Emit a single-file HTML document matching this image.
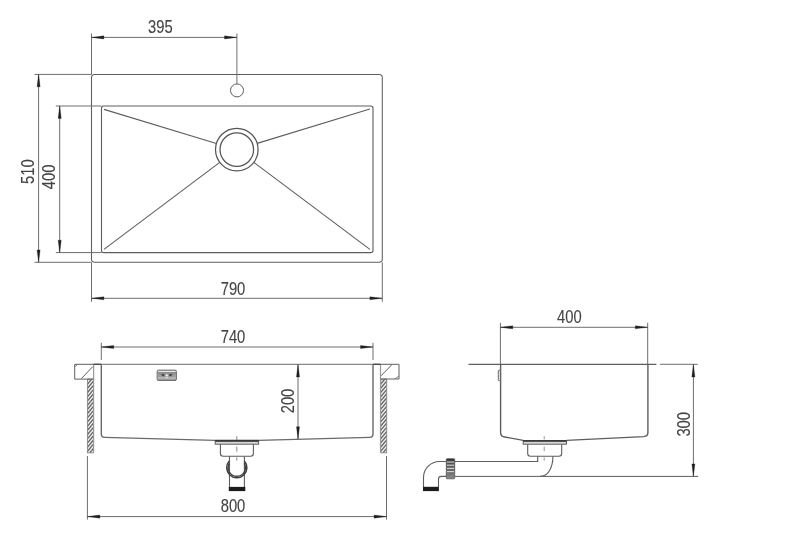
<!DOCTYPE html>
<html><head><meta charset="utf-8"><title>Sink technical drawing</title>
<style>
html,body{margin:0;padding:0;background:#fff;}
body{width:800px;height:553px;overflow:hidden;}
svg{display:block;font-family:"Liberation Sans",sans-serif;filter:blur(0.3px);}
</style></head><body>
<svg width="800" height="553" viewBox="0 0 800 553">
<rect width="800" height="553" fill="#fff"/>
<rect x="91.5" y="74.4" width="290.80" height="187.90" rx="3.2" fill="none" stroke="#5e5e5e" stroke-width="1.05"/>
<rect x="101.5" y="106.0" width="271.50" height="146.60" rx="2.2" fill="none" stroke="#5e5e5e" stroke-width="1.1"/>
<circle cx="237" cy="90.4" r="6.5" fill="none" stroke="#5e5e5e" stroke-width="1.0"/>
<circle cx="236.8" cy="149.6" r="21.3" fill="none" stroke="#555" stroke-width="1.25"/>
<circle cx="236.8" cy="149.6" r="16.8" fill="none" stroke="#555" stroke-width="1.25"/>
<line x1="104" y1="109.4" x2="216.41" y2="143.43" stroke="#5e5e5e" stroke-width="1.1" />
<line x1="369.9" y1="109" x2="257.17" y2="143.39" stroke="#5e5e5e" stroke-width="1.1" />
<line x1="104" y1="249.4" x2="219.77" y2="162.4" stroke="#5e5e5e" stroke-width="1.1" />
<line x1="369.9" y1="249.4" x2="253.84" y2="162.38" stroke="#5e5e5e" stroke-width="1.1" />
<line x1="91.5" y1="33.5" x2="91.5" y2="74.4" stroke="#6e6e6e" stroke-width="1.0" />
<line x1="236.9" y1="33.5" x2="236.9" y2="83.9" stroke="#6e6e6e" stroke-width="1.0" />
<line x1="91.5" y1="37.4" x2="236.9" y2="37.4" stroke="#6e6e6e" stroke-width="1.0" />
<polygon points="91.50,37.40 103.90,35.85 103.90,38.95" fill="#1e1e1e" stroke="#1e1e1e" stroke-width="0.3"/>
<polygon points="236.90,37.40 224.50,35.85 224.50,38.95" fill="#1e1e1e" stroke="#1e1e1e" stroke-width="0.3"/>
<text transform="translate(160.3,33.2) scale(0.785,1)" text-anchor="middle" font-size="18.8" fill="#444444" stroke="#444444" stroke-width="0.12">395</text>
<line x1="34.5" y1="74.4" x2="91.5" y2="74.4" stroke="#6e6e6e" stroke-width="1.0" />
<line x1="34.5" y1="262.3" x2="91.5" y2="262.3" stroke="#6e6e6e" stroke-width="1.0" />
<line x1="38.6" y1="74.4" x2="38.6" y2="262.3" stroke="#6e6e6e" stroke-width="1.0" />
<polygon points="38.60,74.40 37.05,86.80 40.15,86.80" fill="#1e1e1e" stroke="#1e1e1e" stroke-width="0.3"/>
<polygon points="38.60,262.30 37.05,249.90 40.15,249.90" fill="#1e1e1e" stroke="#1e1e1e" stroke-width="0.3"/>
<text transform="translate(34.1,171.6) rotate(-90) scale(0.785,1)" text-anchor="middle" font-size="18.8" fill="#444444" stroke="#444444" stroke-width="0.12">510</text>
<line x1="55.8" y1="106.0" x2="101.5" y2="106.0" stroke="#6e6e6e" stroke-width="1.0" />
<line x1="55.8" y1="252.6" x2="101.5" y2="252.6" stroke="#6e6e6e" stroke-width="1.0" />
<line x1="59.7" y1="106.0" x2="59.7" y2="252.6" stroke="#6e6e6e" stroke-width="1.0" />
<polygon points="59.70,106.00 58.15,118.40 61.25,118.40" fill="#1e1e1e" stroke="#1e1e1e" stroke-width="0.3"/>
<polygon points="59.70,252.60 58.15,240.20 61.25,240.20" fill="#1e1e1e" stroke="#1e1e1e" stroke-width="0.3"/>
<text transform="translate(55.4,176.9) rotate(-90) scale(0.785,1)" text-anchor="middle" font-size="18.8" fill="#444444" stroke="#444444" stroke-width="0.12">400</text>
<line x1="91.5" y1="262.3" x2="91.5" y2="301.8" stroke="#6e6e6e" stroke-width="1.0" />
<line x1="382.3" y1="262.3" x2="382.3" y2="301.8" stroke="#6e6e6e" stroke-width="1.0" />
<line x1="91.5" y1="298.3" x2="382.3" y2="298.3" stroke="#6e6e6e" stroke-width="1.0" />
<polygon points="91.50,298.30 103.90,296.75 103.90,299.85" fill="#1e1e1e" stroke="#1e1e1e" stroke-width="0.3"/>
<polygon points="382.30,298.30 369.90,296.75 369.90,299.85" fill="#1e1e1e" stroke="#1e1e1e" stroke-width="0.3"/>
<text transform="translate(233,294.6) scale(0.785,1)" text-anchor="middle" font-size="18.8" fill="#444444" stroke="#444444" stroke-width="0.12">790</text>
<line x1="101.3" y1="342.8" x2="101.3" y2="360" stroke="#6e6e6e" stroke-width="1.0" />
<line x1="373" y1="342.8" x2="373" y2="360" stroke="#6e6e6e" stroke-width="1.0" />
<line x1="101.3" y1="347" x2="372.9" y2="347" stroke="#6e6e6e" stroke-width="1.0" />
<polygon points="101.30,347.00 113.70,345.45 113.70,348.55" fill="#1e1e1e" stroke="#1e1e1e" stroke-width="0.3"/>
<polygon points="372.90,347.00 360.50,345.45 360.50,348.55" fill="#1e1e1e" stroke="#1e1e1e" stroke-width="0.3"/>
<text transform="translate(233,342.6) scale(0.785,1)" text-anchor="middle" font-size="18.8" fill="#444444" stroke="#444444" stroke-width="0.12">740</text>
<defs><clipPath id="cl"><rect x="87.4" y="379.1" width="6.1" height="73.7"/></clipPath><clipPath id="cr"><rect x="380.6" y="379.1" width="6.1" height="73.7"/></clipPath></defs>
<g clip-path="url(#cl)">
<rect x="87.4" y="379" width="6.10" height="74" fill="#f1f1f1"/>
<line x1="86.4" y1="381.19" x2="94.5" y2="371.55" stroke="#676767" stroke-width="1.35"/>
<line x1="86.4" y1="385.39" x2="94.5" y2="375.75" stroke="#676767" stroke-width="1.35"/>
<line x1="86.4" y1="389.59" x2="94.5" y2="379.95" stroke="#676767" stroke-width="1.35"/>
<line x1="86.4" y1="393.79" x2="94.5" y2="384.15" stroke="#676767" stroke-width="1.35"/>
<line x1="86.4" y1="397.99" x2="94.5" y2="388.35" stroke="#676767" stroke-width="1.35"/>
<line x1="86.4" y1="402.19" x2="94.5" y2="392.55" stroke="#676767" stroke-width="1.35"/>
<line x1="86.4" y1="406.39" x2="94.5" y2="396.75" stroke="#676767" stroke-width="1.35"/>
<line x1="86.4" y1="410.59" x2="94.5" y2="400.95" stroke="#676767" stroke-width="1.35"/>
<line x1="86.4" y1="414.79" x2="94.5" y2="405.15" stroke="#676767" stroke-width="1.35"/>
<line x1="86.4" y1="418.99" x2="94.5" y2="409.35" stroke="#676767" stroke-width="1.35"/>
<line x1="86.4" y1="423.19" x2="94.5" y2="413.55" stroke="#676767" stroke-width="1.35"/>
<line x1="86.4" y1="427.39" x2="94.5" y2="417.75" stroke="#676767" stroke-width="1.35"/>
<line x1="86.4" y1="431.59" x2="94.5" y2="421.95" stroke="#676767" stroke-width="1.35"/>
<line x1="86.4" y1="435.79" x2="94.5" y2="426.15" stroke="#676767" stroke-width="1.35"/>
<line x1="86.4" y1="439.99" x2="94.5" y2="430.35" stroke="#676767" stroke-width="1.35"/>
<line x1="86.4" y1="444.19" x2="94.5" y2="434.55" stroke="#676767" stroke-width="1.35"/>
<line x1="86.4" y1="448.39" x2="94.5" y2="438.75" stroke="#676767" stroke-width="1.35"/>
<line x1="86.4" y1="452.59" x2="94.5" y2="442.95" stroke="#676767" stroke-width="1.35"/>
<line x1="86.4" y1="456.79" x2="94.5" y2="447.15" stroke="#676767" stroke-width="1.35"/>
<line x1="86.4" y1="460.99" x2="94.5" y2="451.35" stroke="#676767" stroke-width="1.35"/>
<line x1="86.4" y1="465.19" x2="94.5" y2="455.55" stroke="#676767" stroke-width="1.35"/>
</g>
<rect x="87.4" y="379.1" width="6.10" height="73.7" fill="none" stroke="#858585" stroke-width="0.9"/>
<g clip-path="url(#cr)">
<rect x="380.6" y="379" width="6.10" height="74" fill="#f1f1f1"/>
<line x1="379.6" y1="381.19" x2="387.7" y2="371.55" stroke="#676767" stroke-width="1.35"/>
<line x1="379.6" y1="385.39" x2="387.7" y2="375.75" stroke="#676767" stroke-width="1.35"/>
<line x1="379.6" y1="389.59" x2="387.7" y2="379.95" stroke="#676767" stroke-width="1.35"/>
<line x1="379.6" y1="393.79" x2="387.7" y2="384.15" stroke="#676767" stroke-width="1.35"/>
<line x1="379.6" y1="397.99" x2="387.7" y2="388.35" stroke="#676767" stroke-width="1.35"/>
<line x1="379.6" y1="402.19" x2="387.7" y2="392.55" stroke="#676767" stroke-width="1.35"/>
<line x1="379.6" y1="406.39" x2="387.7" y2="396.75" stroke="#676767" stroke-width="1.35"/>
<line x1="379.6" y1="410.59" x2="387.7" y2="400.95" stroke="#676767" stroke-width="1.35"/>
<line x1="379.6" y1="414.79" x2="387.7" y2="405.15" stroke="#676767" stroke-width="1.35"/>
<line x1="379.6" y1="418.99" x2="387.7" y2="409.35" stroke="#676767" stroke-width="1.35"/>
<line x1="379.6" y1="423.19" x2="387.7" y2="413.55" stroke="#676767" stroke-width="1.35"/>
<line x1="379.6" y1="427.39" x2="387.7" y2="417.75" stroke="#676767" stroke-width="1.35"/>
<line x1="379.6" y1="431.59" x2="387.7" y2="421.95" stroke="#676767" stroke-width="1.35"/>
<line x1="379.6" y1="435.79" x2="387.7" y2="426.15" stroke="#676767" stroke-width="1.35"/>
<line x1="379.6" y1="439.99" x2="387.7" y2="430.35" stroke="#676767" stroke-width="1.35"/>
<line x1="379.6" y1="444.19" x2="387.7" y2="434.55" stroke="#676767" stroke-width="1.35"/>
<line x1="379.6" y1="448.39" x2="387.7" y2="438.75" stroke="#676767" stroke-width="1.35"/>
<line x1="379.6" y1="452.59" x2="387.7" y2="442.95" stroke="#676767" stroke-width="1.35"/>
<line x1="379.6" y1="456.79" x2="387.7" y2="447.15" stroke="#676767" stroke-width="1.35"/>
<line x1="379.6" y1="460.99" x2="387.7" y2="451.35" stroke="#676767" stroke-width="1.35"/>
<line x1="379.6" y1="465.19" x2="387.7" y2="455.55" stroke="#676767" stroke-width="1.35"/>
</g>
<rect x="380.6" y="379.1" width="6.10" height="73.7" fill="none" stroke="#858585" stroke-width="0.9"/>
<line x1="93.6" y1="364.3" x2="93.6" y2="452.8" stroke="#9a9a9a" stroke-width="1.2" />
<line x1="380.5" y1="364.3" x2="380.5" y2="452.8" stroke="#9a9a9a" stroke-width="1.2" />
<path d="M93.5 364.3 H74.7 V379.1 H93.5" fill="none" stroke="#5e5e5e" stroke-width="1.0"/>
<line x1="92.8" y1="366.6" x2="81.4" y2="378.6" stroke="#5e5e5e" stroke-width="1.0" />
<line x1="75.2" y1="366.6" x2="77.2" y2="364.8" stroke="#5e5e5e" stroke-width="0.8" />
<path d="M380.6 364.3 H399 V379 H380.6" fill="none" stroke="#5e5e5e" stroke-width="1.0"/>
<line x1="391.8" y1="364.8" x2="381" y2="375.8" stroke="#5e5e5e" stroke-width="1.0" />
<line x1="395.2" y1="378.8" x2="398.8" y2="376" stroke="#5e5e5e" stroke-width="0.8" />
<line x1="93.5" y1="364.3" x2="380.6" y2="364.3" stroke="#6c6c6c" stroke-width="1.0" />
<line x1="93.5" y1="364.3" x2="101.3" y2="364.3" stroke="#484848" stroke-width="1.3" />
<line x1="373" y1="364.3" x2="380.6" y2="364.3" stroke="#484848" stroke-width="1.3" />
<path d="M101.3 364.3 V434 Q101.3 437.3 104.6 437.4 L215 440.4 M373 364.3 V434 Q373 437.3 369.7 437.4 L258.6 440.4" fill="none" stroke="#6a6a6a" stroke-width="1.4"/>
<line x1="215" y1="440.6" x2="258.6" y2="440.6" stroke="#333" stroke-width="1.6" />
<rect x="215.2" y="440.6" width="43.4" height="3.6" fill="#d8d8d8" stroke="#5e5e5e" stroke-width="1"/>
<line x1="215.2" y1="441" x2="258.6" y2="441" stroke="#2a2a2a" stroke-width="1.6" />
<path d="M220.4 444.2 V453.5 Q220.4 456.2 223.1 456.2 H250.7 Q253.4 456.2 253.4 453.5 V444.2" fill="none" stroke="#5e5e5e" stroke-width="1.1"/>
<line x1="229.5" y1="456.2" x2="229.5" y2="487" stroke="#5e5e5e" stroke-width="1.1" />
<line x1="244.4" y1="456.2" x2="244.4" y2="487" stroke="#5e5e5e" stroke-width="1.1" />
<g>
<path d="M244.31 460.94 A10.1 10.1 0 1 1 229.29 460.94" fill="none" stroke="#3e3e3e" stroke-width="1.5"/>
<path d="M244.25 463.40 A8.6 8.6 0 1 1 229.35 463.40" fill="none" stroke="#3e3e3e" stroke-width="1.4"/>
</g>
<rect x="228.8" y="486.9" width="16.5" height="4.2" fill="#1c1c1c"/>
<line x1="236.8" y1="436.2" x2="236.8" y2="440" stroke="#777" stroke-width="0.9" />
<line x1="236.8" y1="446.6" x2="236.8" y2="451.6" stroke="#777" stroke-width="0.9" />
<line x1="236.8" y1="457.4" x2="236.8" y2="460.6" stroke="#777" stroke-width="0.9" />
<rect x="157.1" y="370.1" width="19.4" height="10.3" rx="1.4" fill="#b4b4b4" stroke="#6c6c6c" stroke-width="0.9"/>
<line x1="158.2" y1="371.5" x2="175.4" y2="371.5" stroke="#efefef" stroke-width="0.9" />
<line x1="157.6" y1="373.0" x2="176" y2="373.0" stroke="#5c5c5c" stroke-width="0.9" />
<rect x="157.8" y="373.6" width="18" height="3.4" fill="#9c9c9c"/>
<path d="M160.8 374.3 L164.8 374.3 L163.4 376.6 Z M168.8 374.3 L172.8 374.3 L170.2 376.6 Z" fill="#333"/>
<path d="M166.8 373.8 L168.2 376 L165.4 376 Z M166.8 378.6 L168.2 376.8 L165.4 376.8 Z" fill="#eee"/>
<line x1="157.6" y1="380.2" x2="176" y2="380.2" stroke="#666" stroke-width="0.8" />
<line x1="298" y1="364.5" x2="298" y2="439.1" stroke="#6e6e6e" stroke-width="1.0" />
<polygon points="298.00,364.50 296.45,376.90 299.55,376.90" fill="#1e1e1e" stroke="#1e1e1e" stroke-width="0.3"/>
<polygon points="298.00,439.10 296.45,426.70 299.55,426.70" fill="#1e1e1e" stroke="#1e1e1e" stroke-width="0.3"/>
<text transform="translate(294.4,401) rotate(-90) scale(0.785,1)" text-anchor="middle" font-size="18.8" fill="#444444" stroke="#444444" stroke-width="0.12">200</text>
<line x1="87.4" y1="456" x2="87.4" y2="519.6" stroke="#6e6e6e" stroke-width="1.0" />
<line x1="386.5" y1="456" x2="386.5" y2="519.6" stroke="#6e6e6e" stroke-width="1.0" />
<line x1="87.4" y1="516.6" x2="386.5" y2="516.6" stroke="#6e6e6e" stroke-width="1.0" />
<polygon points="87.40,516.60 99.80,515.05 99.80,518.15" fill="#1e1e1e" stroke="#1e1e1e" stroke-width="0.3"/>
<polygon points="386.50,516.60 374.10,515.05 374.10,518.15" fill="#1e1e1e" stroke="#1e1e1e" stroke-width="0.3"/>
<text transform="translate(233,511.8) scale(0.785,1)" text-anchor="middle" font-size="18.8" fill="#444444" stroke="#444444" stroke-width="0.12">800</text>
<line x1="500.4" y1="322.8" x2="500.4" y2="364.3" stroke="#6e6e6e" stroke-width="1.0" />
<line x1="647.7" y1="322.8" x2="647.7" y2="364.3" stroke="#6e6e6e" stroke-width="1.0" />
<line x1="500.4" y1="327.3" x2="647.7" y2="327.3" stroke="#6e6e6e" stroke-width="1.0" />
<polygon points="500.40,327.30 512.80,325.75 512.80,328.85" fill="#1e1e1e" stroke="#1e1e1e" stroke-width="0.3"/>
<polygon points="647.70,327.30 635.30,325.75 635.30,328.85" fill="#1e1e1e" stroke="#1e1e1e" stroke-width="0.3"/>
<text transform="translate(569.3,322.9) scale(0.785,1)" text-anchor="middle" font-size="18.8" fill="#444444" stroke="#444444" stroke-width="0.12">400</text>
<line x1="468.5" y1="364.3" x2="656.4" y2="364.3" stroke="#5e5e5e" stroke-width="1.2" />
<line x1="659.8" y1="364.3" x2="697.8" y2="364.3" stroke="#6e6e6e" stroke-width="1.0" />
<path d="M500.6 364.3 V432.5 Q500.6 436.6 504.8 437 L523.2 440.4 M647.9 364.3 V432.5 Q647.9 436.3 643.8 436.6 L566.5 440.4" fill="none" stroke="#5e5e5e" stroke-width="1.4"/>
<rect x="498.3" y="370.2" width="2.2" height="10.4" rx="0.8" fill="#ddd" stroke="#5e5e5e" stroke-width="0.9"/>
<rect x="523.2" y="440.6" width="43.3" height="3.6" fill="#d8d8d8" stroke="#5e5e5e" stroke-width="1"/>
<line x1="523.2" y1="441" x2="566.5" y2="441" stroke="#2a2a2a" stroke-width="1.6" />
<path d="M527.7 444.2 V453.6 Q527.7 456.3 530.4 456.3 H559 Q561.7 456.3 561.7 453.6 V444.2" fill="none" stroke="#5e5e5e" stroke-width="1.1"/>
<path d="M454.7 461.5 H537.7 V456.3" fill="none" stroke="#5e5e5e" stroke-width="1.1"/>
<path d="M552.9 456.3 C552.9 468 548 476.4 540 476.4" fill="none" stroke="#5e5e5e" stroke-width="1.1"/>
<line x1="454.7" y1="476.4" x2="698.2" y2="476.4" stroke="#5e5e5e" stroke-width="1.0" />
<defs><linearGradient id="ng" x1="0" y1="0" x2="0" y2="1"><stop offset="0" stop-color="#2e2e2e"/><stop offset="0.25" stop-color="#555"/><stop offset="0.7" stop-color="#707070"/><stop offset="1" stop-color="#8a8a8a"/></linearGradient></defs>
<rect x="446.3" y="458.7" width="8.4" height="20.1" rx="0.8" fill="url(#ng)" stroke="#4a4a4a" stroke-width="0.7"/>
<line x1="447.0" y1="462.0" x2="454.0" y2="462.0" stroke="#d6d6d6" stroke-width="1.1" />
<line x1="447.0" y1="465.2" x2="454.0" y2="465.2" stroke="#d6d6d6" stroke-width="1.1" />
<line x1="447.0" y1="468.4" x2="454.0" y2="468.4" stroke="#d6d6d6" stroke-width="1.1" />
<line x1="447.0" y1="471.6" x2="454.0" y2="471.6" stroke="#d6d6d6" stroke-width="1.1" />
<path d="M446.2 461.5 H439.5 A16 16 0 0 0 423.5 477.5 V487" fill="none" stroke="#5e5e5e" stroke-width="1.1"/>
<path d="M446.2 476.4 H441.2 Q438.5 476.4 438.5 479.2 V487" fill="none" stroke="#5e5e5e" stroke-width="1.1"/>
<rect x="423" y="486.8" width="15.9" height="4.3" fill="#1c1c1c"/>
<line x1="544.2" y1="436.2" x2="544.2" y2="439.4" stroke="#888" stroke-width="0.9" />
<line x1="544.2" y1="446.6" x2="544.2" y2="451.2" stroke="#888" stroke-width="0.9" />
<line x1="544.2" y1="457.4" x2="544.2" y2="460.6" stroke="#888" stroke-width="0.9" />
<line x1="693.4" y1="364.5" x2="693.4" y2="476.3" stroke="#6e6e6e" stroke-width="1.0" />
<polygon points="693.40,364.50 691.85,376.90 694.95,376.90" fill="#1e1e1e" stroke="#1e1e1e" stroke-width="0.3"/>
<polygon points="693.40,476.30 691.85,463.90 694.95,463.90" fill="#1e1e1e" stroke="#1e1e1e" stroke-width="0.3"/>
<text transform="translate(689.6,424.3) rotate(-90) scale(0.785,1)" text-anchor="middle" font-size="18.8" fill="#444444" stroke="#444444" stroke-width="0.12">300</text>
</svg>
</body></html>
